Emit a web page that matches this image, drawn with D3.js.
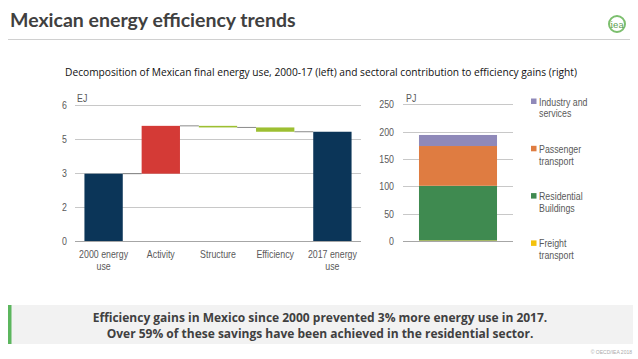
<!DOCTYPE html>
<html><head><meta charset="utf-8">
<script src="https://cdn.jsdelivr.net/npm/d3@7"></script>
<style>
html,body{margin:0;padding:0;background:#fff;}
svg{display:block;}
</style></head>
<body>
<script>
// ---- data ----
const wfCategories = [["2000 energy","use"],["Activity"],["Structure"],["Efficiency"],["2017 energy","use"]];
const wfValues = [2.97, 2.11, -0.07, -0.19, 4.82];   // EJ; first and last are totals
const wfTypes = ["total","delta","delta","delta","total"];
const wfTicks = [0, 1.5, 3, 4.5, 6];

const sectors = ["Freight transport","Residential Buildings","Passenger transport","Industry and services"];
const sectorValues = [1, 100, 72.7, 20.2]; // PJ
const sectorTicks = [0, 50, 100, 150, 200, 250];
const legendOrder = [["Industry and","services"],["Passenger","transport"],["Residential","Buildings"],["Freight","transport"]];
const legendKeys = ["Industry and services","Passenger transport","Residential Buildings","Freight transport"];

const colors = {
  total:"#0b3558", up:"#d43a36", down:"#9dbf32",
  "Industry and services":"#8f89b9","Passenger transport":"#df7c41",
  "Residential Buildings":"#3f8a50","Freight transport":"#f4c20d"
};

const W=638,H=359;
const svg=d3.select("body").append("svg").attr("width",W).attr("height",H);
const narrowFont="'Liberation Sans',Arial,sans-serif";
const SX=0.84;
function ntext(g,x,y,anchor,lines,lh){
  const t=g.append("text").attr("transform",`translate(${x},${y}) scale(${SX},1)`)
    .attr("text-anchor",anchor).attr("font-family",narrowFont).attr("font-size",10.5).attr("fill","#595959");
  lines.forEach((l,j)=>t.append("tspan").attr("x",0).attr("dy",j?lh:0).text(l));
  return t;
}

// ---- header ----
svg.append("text").attr("x",10).attr("y",27).text("Mexican energy efficiency trends")
  .attr("font-family","'Lato','Noto Sans',sans-serif").attr("font-weight",700)
  .attr("font-size",19.5).attr("fill","#404040");
svg.append("line").attr("x1",8).attr("x2",630).attr("y1",39.5).attr("y2",39.5)
  .attr("stroke","#d0d0d0").attr("stroke-width",1);
svg.append("circle").attr("cx",617).attr("cy",24).attr("r",8).attr("fill","none")
  .attr("stroke","#7cbf6e").attr("stroke-width",2);
svg.append("text").attr("x",617).attr("y",27.5).attr("text-anchor","middle").text("iea")
  .attr("font-family","'DejaVu Serif',serif").attr("font-size",9).attr("fill","#5a9e50");

svg.append("text").attr("x",321).attr("y",76).attr("text-anchor","middle")
  .text("Decomposition of Mexican final energy use, 2000-17 (left) and sectoral contribution to efficiency gains (right)")
  .attr("font-family","'Open Sans','Liberation Sans',sans-serif").attr("font-size",10.2).attr("fill","#111");

// ---- left waterfall ----
const x1=d3.scaleBand().domain(d3.range(wfValues.length)).range([75,361]).paddingInner(0.33).paddingOuter(0.165);
const y1=d3.scaleLinear().domain([0,6]).range([241,105]);
const gL=svg.append("g");
gL.selectAll(".grid").data(wfTicks).join("line")
  .attr("x1",75).attr("x2",361).attr("y1",d=>Math.round(y1(d))+0.5).attr("y2",d=>Math.round(y1(d))+0.5)
  .attr("stroke",d=>d===0?"#a6a6a6":"#c8c8c8").attr("stroke-width",1);
wfTicks.forEach(d=>ntext(gL,67,y1(d)+4,"end",[d3.format(".0f")(d)]));
ntext(gL,77,102,"start",["EJ"]);

let run=0; const segs=[];
wfValues.forEach((v,i)=>{
  if(wfTypes[i]==="total"){segs.push({i,lo:0,hi:v,c:colors.total,end:v});run=v;}
  else{const s=run;run=s+v;segs.push({i,lo:Math.min(s,run),hi:Math.max(s,run),c:v>=0?colors.up:colors.down,end:run});}
});
segs.slice(0,-1).forEach((s,k)=>{
  gL.append("line").attr("x1",x1(s.i)+x1.bandwidth()).attr("x2",x1(segs[k+1].i))
    .attr("y1",y1(s.end)).attr("y2",y1(s.end)).attr("stroke","#6d6d6d").attr("stroke-width",0.8);
});
gL.selectAll(".bar").data(segs).join("rect")
  .attr("x",d=>x1(d.i)).attr("width",x1.bandwidth())
  .attr("y",d=>y1(d.hi)).attr("height",d=>Math.max(1.2,y1(d.lo)-y1(d.hi))).attr("fill",d=>d.c);
wfCategories.forEach((lines,i)=>ntext(gL,x1(i)+x1.bandwidth()/2,258,"middle",lines,12.5));

// ---- right stacked bar ----
const y2=d3.scaleLinear().domain([0,250]).range([241,104.3]);
const gR=svg.append("g");
gR.selectAll(".grid").data(sectorTicks).join("line")
  .attr("x1",403).attr("x2",513).attr("y1",d=>Math.round(y2(d))+0.5).attr("y2",d=>Math.round(y2(d))+0.5)
  .attr("stroke",d=>d===0?"#a6a6a6":"#c8c8c8").attr("stroke-width",1);
sectorTicks.forEach(d=>ntext(gR,394,y2(d)+4,"end",[String(d)]));
ntext(gR,406,102,"start",["PJ"]);
const x2=d3.scaleBand().domain(["bar"]).range([403,513]).padding(0.17);
const row={}; sectors.forEach((s,i)=>row[s]=sectorValues[i]);
const stack=d3.stack().keys(sectors)([row]);
gR.selectAll(".sb").data(stack).join("rect")
  .attr("x",x2("bar")).attr("width",x2.bandwidth())
  .attr("y",d=>y2(d[0][1])).attr("height",d=>y2(d[0][0])-y2(d[0][1]))
  .attr("fill",d=>colors[d.key]);

legendKeys.forEach((k,i)=>{
  const yb=105.5+i*47.3;
  gR.append("rect").attr("x",531).attr("y",yb-7).attr("width",5.5).attr("height",5.5).attr("fill",colors[k]);
  ntext(gR,539,yb,"start",legendOrder[i],11.8);
});

// ---- bottom box ----
svg.append("rect").attr("x",8).attr("y",305).attr("width",625).attr("height",39).attr("fill","#f2f2f2");
svg.append("rect").attr("x",8).attr("y",305).attr("width",3.5).attr("height",39).attr("fill","#5cb65e");
const msg=["Efficiency gains in Mexico since 2000 prevented 3% more energy use in 2017.",
           "Over 59% of these savings have been achieved in the residential sector."];
msg.forEach((m,i)=>svg.append("text").attr("x",320).attr("y",322+i*16).attr("text-anchor","middle").text(m)
  .attr("font-family","'Open Sans','Noto Sans',sans-serif").attr("font-weight",700).attr("font-size",12).attr("fill","#404040"));
svg.append("text").attr("x",632).attr("y",354).attr("text-anchor","end").text("© OECD/IEA 2018")
  .attr("font-family","'Liberation Sans',sans-serif").attr("font-size",5).attr("fill","#aaa");
</script>
</body></html>
